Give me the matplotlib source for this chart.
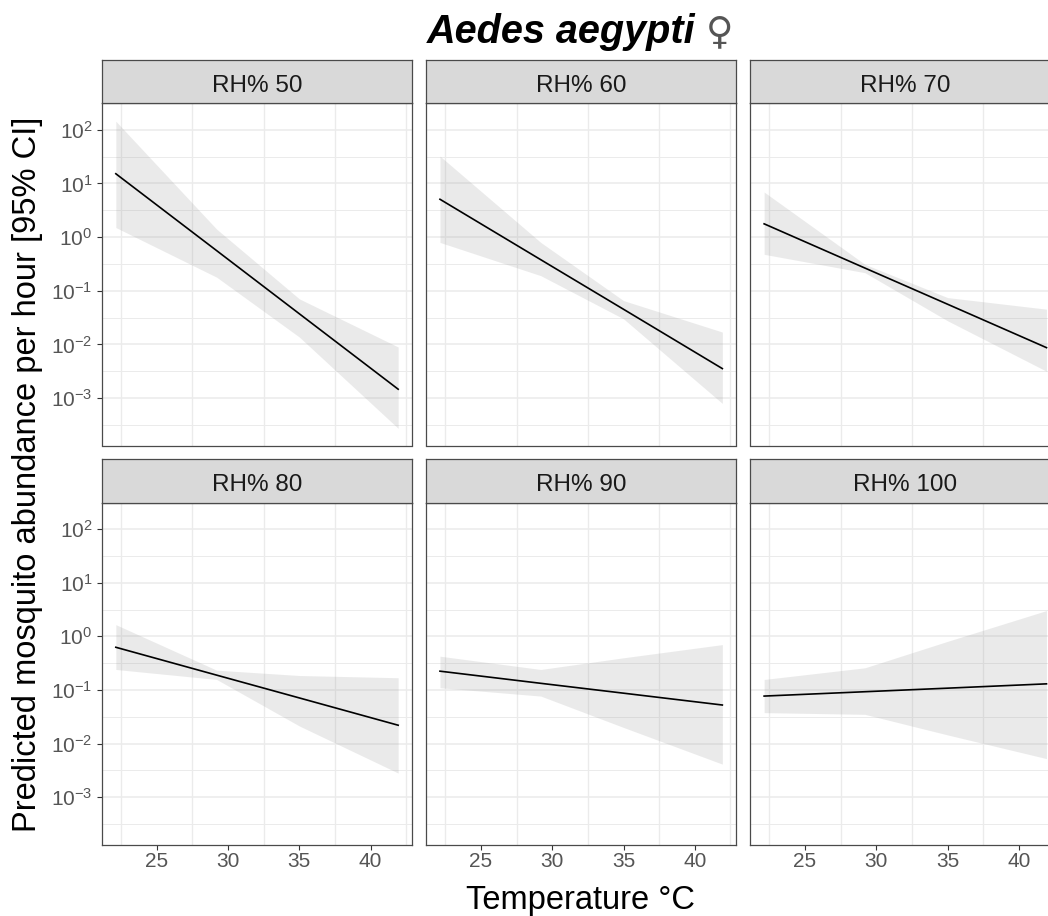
import math
import matplotlib
matplotlib.use("Agg")
import matplotlib.pyplot as plt
from matplotlib.ticker import FixedLocator, FuncFormatter, NullFormatter

plt.rcParams["font.family"] = ["Liberation Sans", "DejaVu Sans"]
plt.rcParams["mathtext.fontset"] = "custom"
plt.rcParams["mathtext.rm"] = "Liberation Sans"
plt.rcParams["mathtext.it"] = "Liberation Sans:italic"
plt.rcParams["mathtext.bf"] = "Liberation Sans:bold"

# ---------------- data ----------------
temperature = [22.13, 29.2, 35.0, 41.93]
rh_levels = [50, 60, 70, 80, 90, 100]

fit_rh50 = [15.2, 0.56, 0.0372, 0.00146]
upper_rh50 = [145, 1.41, 0.0706, 0.00895]
lower_rh50 = [1.51, 0.179, 0.0137, 0.000272]

fit_rh60 = [5.08, 0.379, 0.0452, 0.00354]
upper_rh60 = [32.4, 0.796, 0.0656, 0.017]
lower_rh60 = [0.796, 0.191, 0.030, 0.000794]

fit_rh70 = [1.77, 0.265, 0.056, 0.0087]
upper_rh70 = [6.93, 0.311, 0.0746, 0.0454]
lower_rh70 = [0.478, 0.217, 0.0275, 0.00316]

fit_rh80 = [0.625, 0.189, 0.071, 0.022]
upper_rh80 = [1.65, 0.234, 0.186, 0.169]
lower_rh80 = [0.241, 0.157, 0.0213, 0.00282]

fit_rh90 = [0.224, 0.133, 0.0871, 0.0524]
upper_rh90 = [0.426, 0.241, 0.398, 0.701]
lower_rh90 = [0.110, 0.0769, 0.020, 0.00414]

fit_rh100 = [0.0769, 0.0927, 0.108, 0.130]
upper_rh100 = [0.157, 0.259, 0.807, 3.02]
lower_rh100 = [0.0378, 0.0351, 0.0145, 0.00525]

x_ticks = [25, 30, 35, 40]
y_tick_exponents = [-3, -2, -1, 0, 1, 2]
title_text = "Aedes aegypti"
title_symbol = "\u2640"
strip_prefix = "RH% "
x_label = "Temperature \u00b0C"
y_label = "Predicted mosquito abundance per hour [95% CI]"

fits = [fit_rh50, fit_rh60, fit_rh70, fit_rh80, fit_rh90, fit_rh100]
uppers = [upper_rh50, upper_rh60, upper_rh70, upper_rh80, upper_rh90, upper_rh100]
lowers = [lower_rh50, lower_rh60, lower_rh70, lower_rh80, lower_rh90, lower_rh100]

# ---------------- layout (pixels) ----------------
FW, FH = 1048, 916
fig = plt.figure(figsize=(FW / 100, FH / 100), dpi=100)

col_left = [101.7, 425.85, 750.0]
panel_w = 310.6
row_top = [103.3, 502.5]
panel_h = 342.2
strip_h = 43.5

xlim = (21.14, 42.92)
ylim = (10 ** -3.885, 10 ** 2.495)

border_col = "#4a4a4a"
grid_col = "#EBEBEB"
text_col = "#555555"


def fig_rect(left, top, w, h):
    return [left / FW, 1 - (top + h) / FH, w / FW, h / FH]


def log_label(v, pos):
    return r"$10^{%d}$" % round(math.log10(v))


for i, rh in enumerate(rh_levels):
    r, c = divmod(i, 3)
    ax = fig.add_axes(fig_rect(col_left[c], row_top[r], panel_w, panel_h))
    ax.set_yscale("log")
    ax.set_xlim(*xlim)
    ax.set_ylim(*ylim)
    ax.set_axisbelow(True)

    ax.xaxis.set_major_locator(FixedLocator(x_ticks))
    ax.xaxis.set_minor_locator(FixedLocator([22.5, 27.5, 32.5, 37.5, 42.5]))
    ax.yaxis.set_major_locator(FixedLocator([10.0 ** e for e in y_tick_exponents]))
    ax.yaxis.set_minor_locator(FixedLocator([10.0 ** (e + 0.5) for e in range(-4, 3)]))
    ax.yaxis.set_minor_formatter(NullFormatter())
    ax.xaxis.set_minor_formatter(NullFormatter())
    ax.yaxis.set_major_formatter(FuncFormatter(log_label))

    ax.grid(True, which="minor", axis="x", color=grid_col, lw=1.0)
    ax.grid(True, which="major", axis="y", color=grid_col, lw=1.1)
    ax.grid(True, which="minor", axis="y", color=grid_col, lw=0.7)

    ax.tick_params(which="minor", length=0)
    ax.tick_params(which="major", length=3.6, width=0.8, color="#333333",
                   labelsize=15, labelcolor=text_col)
    ax.tick_params(axis="x", pad=2.0)
    ax.tick_params(axis="y", pad=3.0)
    if r == 0:
        ax.tick_params(axis="x", bottom=False, labelbottom=False)
    if c != 0:
        ax.tick_params(axis="y", left=False, labelleft=False)

    for sp in ax.spines.values():
        sp.set_color(border_col)
        sp.set_linewidth(0.9)

    ax.fill_between(temperature, lowers[i], uppers[i], color="#999999",
                    alpha=0.2, lw=0, zorder=2)
    ax.plot(temperature, fits[i], color="black", lw=1.2, zorder=3)

    # strip
    sax = fig.add_axes(fig_rect(col_left[c], row_top[r] - strip_h, panel_w, strip_h))
    sax.set_facecolor("#D9D9D9")
    sax.set_xticks([])
    sax.set_yticks([])
    for sp in sax.spines.values():
        sp.set_color(border_col)
        sp.set_linewidth(0.9)
    sax.text(0.5, 0.27, f"{strip_prefix}{rh}", ha="center", va="baseline",
             fontsize=17.5, color="#1A1A1A", transform=sax.transAxes)

# axis titles
fig.text(580 / FW, 1 - 909 / FH, x_label, ha="center", va="baseline",
         fontsize=23.5, color="black")
fig.text(28 / FW, 1 - 474.5 / FH, y_label, ha="center", va="center",
         rotation=90, fontsize=23.5, color="black")

# title: bold italic species name followed by the female symbol
renderer = fig.canvas.get_renderer()
t1 = fig.text(0, 1 - 43 / FH, title_text, fontsize=28.5, fontweight="bold",
              fontstyle="italic", ha="left", va="baseline", color="black")
t2 = fig.text(0, 1 - 43 / FH, title_symbol, fontsize=27, ha="left",
              va="baseline", color="#555555", family=["DejaVu Sans"])
w1 = t1.get_window_extent(renderer).width
w2 = t2.get_window_extent(renderer).width
gap = 10
x0 = 580 - (w1 + gap + w2) / 2
t1.set_x(x0 / FW)
t2.set_x((x0 + w1 + gap) / FW)

fig.savefig("out.png", dpi=100)
